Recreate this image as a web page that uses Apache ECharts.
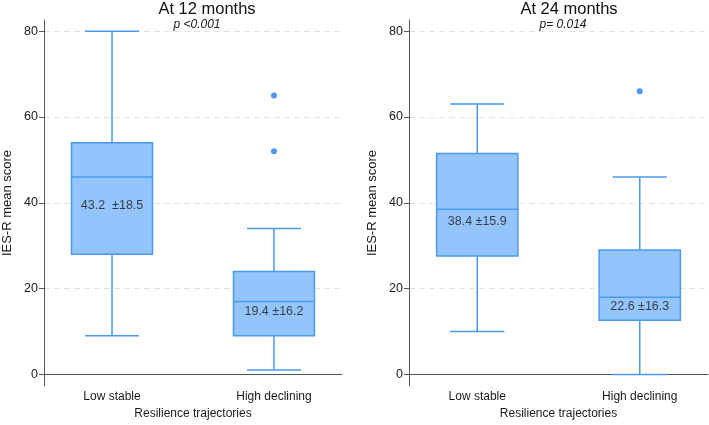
<!DOCTYPE html>
<html>
<head>
<meta charset="utf-8">
<script src="https://cdn.jsdelivr.net/npm/echarts@6/dist/echarts.min.js"></script>
<style>
	html, body { margin: 0; padding: 0; background: #fff; }
	#chart { width: 709px; height: 425px; }
</style>
</head>
<body>
<div id="chart"></div>
<script>
// categories and tick labels
const categories = ['Low stable', 'High declining'];
const yTicks = [0, 20, 40, 60, 80];
const panelTitles = ['At 12 months', 'At 24 months'];
const pValues = ['p <0.001', 'p= 0.014'];

// box stats per category: [min, Q1, median, Q3, max]
const box12 = [
	[9, 28, 46, 54, 80],
	[1, 9, 17, 24, 34],
];
const box24 = [
	[10, 27.6, 38.5, 51.5, 63],
	[0, 12.6, 18, 29, 46],
];

// outliers: [category index, value]
const outliers12 = [[1, 65], [1, 52]];
const outliers24 = [[1, 66]];

// mean ± sd texts and where they sit on the score scale
const summary12 = ['43.2  ±18.5', '19.4 ±16.2'];
const summary24 = ['38.4 ±15.9', '22.6 ±16.3'];
const summaryAt12 = [39.4, 14.7];
const summaryAt24 = [35.6, 15.9];

const color = {
	fill: '#93c4fc',
	border: '#4a9af5',
	dot: '#1f80f0',
	axis: '#555',
	text: '#1a1a1a',
	grid: '#e3e3e3',
};
const fontFamily = '"Liberation Sans", Arial, sans-serif';

const chart = echarts.init(document.getElementById('chart'), null, { renderer: 'canvas' });

const grids = [
	{ left: 42, right: 367, top: 20, bottom: 37 },
	{ left: 409, right: 1, top: 20, bottom: 37 },
];

function xAxisFor(gridIndex) {
	return {
		type: 'value',
		gridIndex,
		min: 0.58,
		max: 2.42,
		name: 'Resilience trajectories',
		nameLocation: 'middle',
		nameGap: 22,
		nameTextStyle: { color: color.text, fontSize: 12, fontFamily },
		axisLine: { show: true, lineStyle: { color: color.axis, width: 1 } },
		axisTick: { show: false },
		splitLine: { show: false },
		axisLabel: {
			customValues: [1, 2],
			formatter: v => categories[Math.round(v) - 1] ?? '',
			color: color.text,
			fontSize: 12,
			fontFamily,
			margin: 5,
		},
	};
}

function yAxisFor(gridIndex) {
	return {
		type: 'value',
		gridIndex,
		min: -2.7,
		max: 82.6,
		name: 'IES-R mean score',
		nameLocation: 'middle',
		nameGap: 30,
		nameTextStyle: { color: color.text, fontSize: 13, fontFamily },
		axisLine: { show: true, lineStyle: { color: color.axis, width: 1 } },
		axisTick: { show: true, customValues: yTicks, length: 5, lineStyle: { color: color.axis } },
		axisLabel: { customValues: yTicks, color: color.text, fontSize: 12.5, fontFamily, margin: 6 },
		splitLine: { show: true, lineStyle: { color: color.grid, type: [6, 4], width: 1 } },
	};
}

// box + whiskers with caps 2/3 of the box width (Stata style)
function boxSeries(idx, stats) {
	return {
		type: 'custom',
		xAxisIndex: idx,
		yAxisIndex: idx,
		silent: true,
		data: stats.map((s, i) => [i + 1, ...s]),
		renderItem: (params, api) => {
			const x = api.value(0);
			const [lo, q1, med, q3, hi] = [1, 2, 3, 4, 5].map(d => api.value(d));
			const half = api.size([1, 0])[0] * 0.25;
			const cap = half * 2 / 3;
			const c = api.coord([x, med])[0];
			const y = v => api.coord([x, v])[1];
			const line = { stroke: color.border, lineWidth: 1.5, fill: null };
			return {
				type: 'group',
				children: [
					{ type: 'line', shape: { x1: c, y1: y(hi), x2: c, y2: y(q3) }, style: line },
					{ type: 'line', shape: { x1: c, y1: y(q1), x2: c, y2: y(lo) }, style: line },
					{ type: 'line', shape: { x1: c - cap, y1: y(hi), x2: c + cap, y2: y(hi) }, style: line },
					{ type: 'line', shape: { x1: c - cap, y1: y(lo), x2: c + cap, y2: y(lo) }, style: line },
					{
						type: 'rect',
						shape: { x: c - half, y: y(q3), width: half * 2, height: y(q1) - y(q3) },
						style: { fill: color.fill, stroke: color.border, lineWidth: 1.5 },
					},
					{ type: 'line', shape: { x1: c - half, y1: y(med), x2: c + half, y2: y(med) }, style: line },
				],
			};
		},
	};
}

function dotSeries(idx, pts) {
	return {
		type: 'scatter',
		xAxisIndex: idx,
		yAxisIndex: idx,
		symbolSize: 6,
		itemStyle: { color: color.dot },
		data: pts.map(p => [p[0] + 1, p[1]]),
		silent: true,
	};
}

function labelSeries(idx, texts, at) {
	return {
		type: 'scatter',
		xAxisIndex: idx,
		yAxisIndex: idx,
		symbolSize: 0,
		z: 10,
		label: {
			show: true,
			position: 'inside',
			formatter: p => texts[p.dataIndex],
			color: color.text,
			fontSize: 12.5,
			fontFamily,
		},
		data: at.map((v, i) => [i + 1, v]),
		silent: true,
	};
}

const titleX = [207, 569];
const pX = [197, 563];

chart.setOption({
	backgroundColor: '#fff',
	animation: false,
	grid: grids,
	xAxis: [xAxisFor(0), xAxisFor(1)],
	yAxis: [yAxisFor(0), yAxisFor(1)],
	graphic: [
		...panelTitles.map((t, i) => ({
			type: 'text',
			x: titleX[i],
			y: 9,
			style: { text: t, fill: '#111', font: '16.5px ' + fontFamily, textAlign: 'center', textVerticalAlign: 'middle' },
		})),
		...pValues.map((t, i) => ({
			type: 'text',
			x: pX[i],
			y: 25,
			style: { text: t, fill: color.text, font: 'italic 12px ' + fontFamily, textAlign: 'center', textVerticalAlign: 'middle' },
		})),
	],
	series: [
		boxSeries(0, box12),
		boxSeries(1, box24),
		dotSeries(0, outliers12),
		dotSeries(1, outliers24),
		labelSeries(0, summary12, summaryAt12),
		labelSeries(1, summary24, summaryAt24),
	],
});
</script>
</body>
</html>
